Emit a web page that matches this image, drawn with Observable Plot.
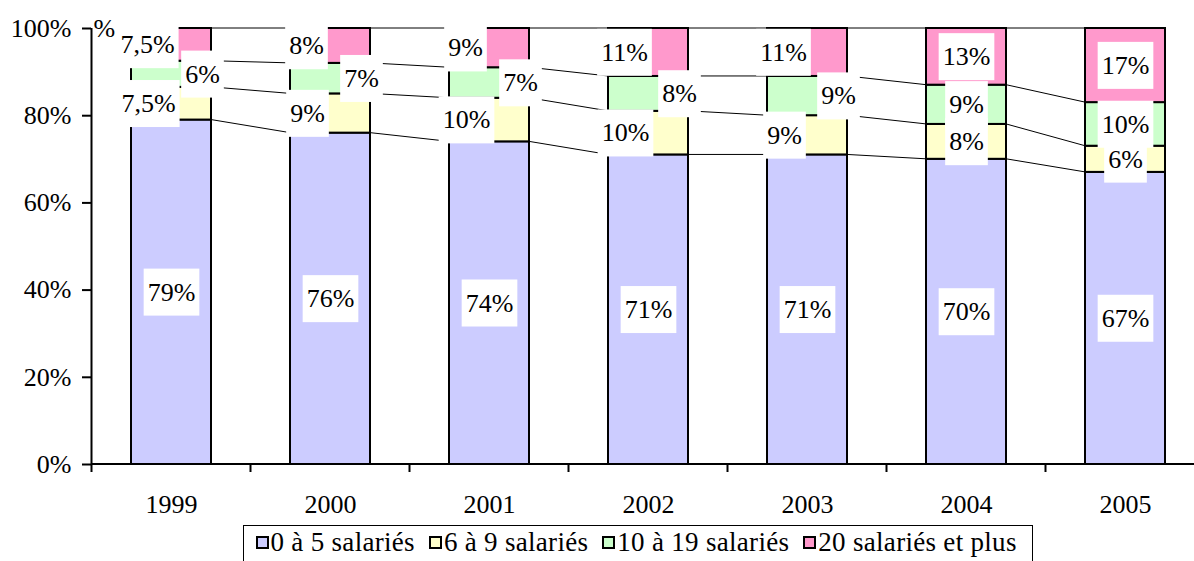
<!DOCTYPE html>
<html>
<head>
<meta charset="utf-8">
<script src="https://cdn.jsdelivr.net/npm/d3@7"></script>
<script src="https://cdn.jsdelivr.net/npm/@observablehq/plot@0.6"></script>
<style>
  html, body { margin: 0; padding: 0; background: white; }
  body { width: 1194px; height: 561px; overflow: hidden; position: relative; font-family: "Liberation Serif", "Times New Roman", serif; }
  #legend { position: absolute; left: 243px; top: 525px; width: 790px; height: 44px; border: 1.5px solid black; box-sizing: border-box; display: flex; align-items: flex-start; padding-left: 11.5px; padding-top: 3px; font-size: 27px; line-height: 27px; letter-spacing: 0.3px; color: black; white-space: nowrap; }
  #legend .item { display: flex; align-items: center; margin-right: 14px; }
  #legend .sw { width: 9px; height: 9px; border: 2px solid black; margin-right: 2px; }
</style>
</head>
<body>
<div id="chart"></div>
<div id="legend"></div>
<script>
// ---- data ----
const years = ["1999", "2000", "2001", "2002", "2003", "2004", "2005"];
const seriesNames = ["0 à 5 salariés", "6 à 9 salariés", "10 à 19 salariés", "20 salariés et plus"];
const s0to5 = [79, 76, 74, 71, 71, 70, 67];
const s6to9 = [7.5, 9, 10, 10, 9, 8, 6];
const s10to19 = [6, 7, 7, 8, 9, 9, 10];
const s20plus = [7.5, 8, 9, 11, 11, 13, 17];
const colors = ["#CCCCFF", "#FFFFCC", "#CCFFCC", "#FF99CC"];
const yTicks = [0, 20, 40, 60, 80, 100];
// years whose small labels are staggered left/right of the bar
const staggeredYears = ["1999", "2000", "2001", "2002", "2003"];
const staggerDx = {"6 à 9 salariés": -23, "10 à 19 salariés": 31, "20 salariés et plus": -24};

const seriesValues = [s0to5, s6to9, s10to19, s20plus];
const rows = [];
years.forEach((year, j) => {
  let acc = 0;
  seriesNames.forEach((name, i) => {
    const v = seriesValues[i][j];
    rows.push({year, series: name, value: v, lo: acc, hi: acc + v, mid: acc + v / 2});
    acc += v;
  });
});
const fmt = v => String(v).replace(".", ",") + "%";

// series lines + axis lines + boundary ticks (drawn with Plot's scales)
function connectors(index, scales) {
  const x = scales.x, y = scales.y;
  const bw = typeof x.bandwidth === "function" ? x.bandwidth() : x.bandwidth;
  const step = x(years[1]) - x(years[0]);
  const gap = (step - bw) / 2;
  const g = d3.create("svg:g").attr("fill", "none");
  for (let k = 0; k < seriesNames.length; k++) {
    for (let j = 0; j < years.length - 1; j++) {
      const a = rows.find(r => r.year === years[j] && r.series === seriesNames[k]);
      const b = rows.find(r => r.year === years[j + 1] && r.series === seriesNames[k]);
      g.append("line")
        .attr("x1", x(years[j]) + bw).attr("y1", y(a.hi))
        .attr("x2", x(years[j + 1])).attr("y2", y(b.hi))
        .attr("stroke", "black").attr("stroke-width", 1);
    }
  }
  const x0 = x(years[0]) - gap;
  const xEnd = x(years[years.length - 1]) + bw + gap;
  g.append("line").attr("x1", x0).attr("x2", x0).attr("y1", y(100)).attr("y2", y(0))
    .attr("stroke", "black").attr("stroke-width", 2);
  g.append("line").attr("x1", x0).attr("x2", xEnd).attr("y1", y(0)).attr("y2", y(0))
    .attr("stroke", "black").attr("stroke-width", 2);
  for (let j = 0; j <= years.length; j++) {
    const xx = x0 + j * step;
    g.append("line").attr("x1", xx).attr("x2", xx).attr("y1", y(0)).attr("y2", y(0) + 8)
      .attr("stroke", "black").attr("stroke-width", 2);
  }
  return g.node();
}

const plainLabels = rows.filter(r => r.series === seriesNames[0] || !staggeredYears.includes(r.year));
const labelMarks = [Plot.text(plainLabels, {x: "year", y: "mid", text: d => fmt(d.value), fontSize: 26, fill: "black"})];
for (const name of seriesNames.slice(1)) {
  labelMarks.push(Plot.text(rows.filter(r => r.series === name && staggeredYears.includes(r.year)),
    {x: "year", y: "mid", text: d => fmt(d.value), fontSize: 26, fill: "black", dx: staggerDx[name]}));
}

const chart = Plot.plot({
  width: 1194,
  height: 522,
  marginTop: 28,
  marginBottom: 58,
  marginLeft: 91,
  marginRight: 0,
  style: {fontFamily: "'Liberation Serif', 'Times New Roman', serif", fontSize: "26px", background: "white", color: "black", overflow: "visible"},
  x: {domain: years, range: [91, 1204], paddingInner: 0.5, paddingOuter: 0.25, label: null},
  y: {domain: [0, 100], label: null},
  color: {domain: seriesNames, range: colors},
  marks: [
    connectors,
    Plot.barY(rows, {x: "year", y1: "lo", y2: "hi", fill: "series", stroke: "black", strokeWidth: 2, inset: 0}),
    Plot.axisY({ticks: yTicks, tickFormat: d => d + "%", tickSize: 9, tickPadding: 11, fontSize: 26, strokeWidth: 2, label: null}),
    Plot.axisX({tickSize: 0, tickPadding: 30, fontSize: 26, label: null}),
    ...labelMarks,
    Plot.text(["%"], {frameAnchor: "top-left", text: d => d, dx: 2, lineAnchor: "middle", fontSize: 26, textAnchor: "start", fill: "black"})
  ]
});
document.getElementById("chart").append(chart);

// white boxes behind segment labels
chart.querySelectorAll('g[aria-label="text"] > text').forEach(t => {
  if (t.textContent === "%") return;
  const bb = t.getBBox();
  const padX = 4, boxH = 47;
  const rect = document.createElementNS("http://www.w3.org/2000/svg", "rect");
  rect.setAttribute("x", bb.x - padX);
  rect.setAttribute("y", bb.y + bb.height / 2 - boxH / 2);
  rect.setAttribute("width", bb.width + 2 * padX);
  rect.setAttribute("height", boxH);
  rect.setAttribute("fill", "white");
  if (t.getAttribute("transform")) rect.setAttribute("transform", t.getAttribute("transform"));
  t.parentNode.insertBefore(rect, t);
});

// legend
const legend = d3.select("#legend");
seriesNames.forEach((name, i) => {
  const item = legend.append("div").attr("class", "item");
  item.append("div").attr("class", "sw").style("background", colors[i]);
  item.append("span").text(name);
});
</script>
</body>
</html>
